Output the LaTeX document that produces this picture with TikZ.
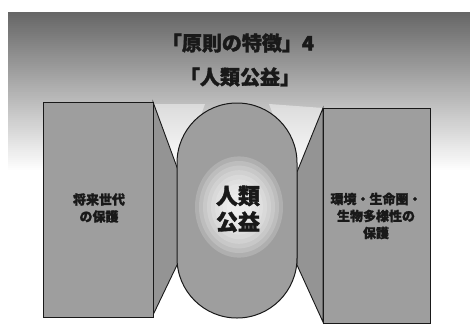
\documentclass[tikz,border=0pt]{standalone}
\usepackage{fontspec}
\newfontfamily\jp{Noto Sans CJK JP}[FakeBold=1.6]
\definecolor{ink}{gray}{0.1}
\definecolor{panelgray}{gray}{0.62}
\definecolor{wedgegray}{gray}{0.58}
\begin{document}
\begin{tikzpicture}[x=1pt,y=1pt,
  panel/.style={draw=ink, line width=1pt, fill=panelgray},
  wedge/.style={fill=wedgegray, draw=ink, line width=0.9pt},
  notch/.style={fill=white, opacity=0.45},
  sidetext/.style={font=\jp\bfseries\fontsize{13}{17}\selectfont, align=center, text=ink},
  bigtext/.style={font=\jp\bfseries\fontsize{22}{26}\selectfont, align=center, text=ink},
  titletext/.style={font=\jp\bfseries\fontsize{20}{26}\selectfont, align=center, text=ink}]
\useasboundingbox (0,0) rectangle (470,-332);
% gray banner fading downward (stripes)
\foreach \i in {0,...,79}{
  \pgfmathsetmacro{\p}{60-60*\i/79}
  \fill[black!\p] (8,-12-2*\i) rectangle (470,-14.3-2*\i);
}
% light notches between panels and capsule top
\path[notch] (153,-104) -- (205,-104) -- (178,-178) -- cycle;
\path[notch] (323,-108) -- (269,-104) -- (297,-178) -- cycle;
% wedges between panels and capsule
\path[wedge] (153,-102) -- (178,-170) -- (178,-263) -- (153,-315) -- cycle;
\path[wedge] (323,-108) -- (297,-172) -- (297,-265) -- (323,-322) -- cycle;
% side panels
\node[panel, minimum width=110pt, minimum height=215pt, inner sep=0pt] (left) at (98,-209.5) {};
\node[panel, minimum width=107pt, minimum height=215pt, inner sep=0pt] (right) at (376.5,-215.5) {};
% capsule
\node[panel, rounded corners=59.9pt, minimum width=120pt, minimum height=215pt, inner sep=0pt] (cap) at (237,-210.5) {};
\foreach \r in {44,40,...,12}{
  \fill[white, opacity=0.18] (239,-207) ellipse ({\r} and {1.15*\r});
}
% texts
\node[titletext] (t1) at (238,-43) {「原則の特徴」4};
\node[titletext] (t2) at (240,-77) {「人類公益」};
\node[sidetext] (lt) at (99,-208) {将来世代\\の保護};
\node[sidetext] (rt) at (376,-216) {環境・生命圏・\\生物多様性の\\保護};
\node[bigtext] (ct) at (238,-209) {人類\\公益};
\end{tikzpicture}
\end{document}
